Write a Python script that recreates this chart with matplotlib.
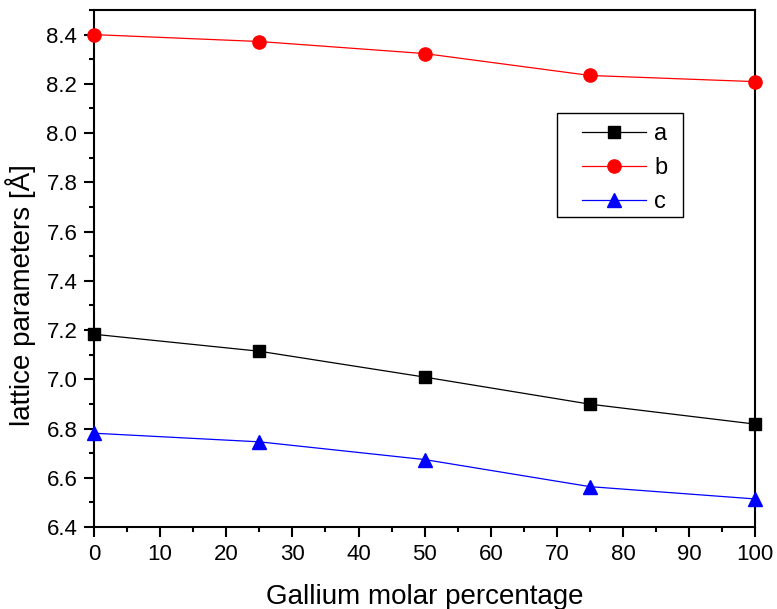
import matplotlib
matplotlib.use('Agg')
import matplotlib.pyplot as plt
from matplotlib.ticker import MultipleLocator
from matplotlib.patches import Rectangle

plt.rcParams['font.family'] = ['Liberation Sans', 'DejaVu Sans']

ga = [0, 25, 50, 75, 100]
a = [7.183, 7.114, 7.009, 6.899, 6.818]
b = [8.400, 8.372, 8.323, 8.234, 8.209]
c = [6.781, 6.746, 6.674, 6.564, 6.514]

fig = plt.figure(figsize=(7.77, 6.09), dpi=100)
ax = fig.add_axes([0.121, 0.1346, 0.851, 0.849])

ax.plot(ga, a, '-s', color='black', lw=0.9, ms=8.5, label='a', clip_on=False, zorder=3)
ax.plot(ga, b, '-o', color='red', lw=0.9, ms=9.5, label='b', clip_on=False, zorder=3)
ax.plot(ga, c, '-^', color='blue', lw=0.9, ms=10, label='c', clip_on=False, zorder=3)

ax.set_xlim(0, 100)
ax.set_ylim(6.4, 8.5)
ax.set_xticks(range(0, 101, 10))
ax.set_yticks([6.4, 6.6, 6.8, 7.0, 7.2, 7.4, 7.6, 7.8, 8.0, 8.2, 8.4])
ax.xaxis.set_minor_locator(MultipleLocator(5))
ax.yaxis.set_minor_locator(MultipleLocator(0.1))
ax.tick_params(which='both', direction='out', width=1.5, labelsize=16, pad=5,
               top=False, right=False)
ax.tick_params(which='major', length=7)
ax.tick_params(which='minor', length=3.5)
for s in ax.spines.values():
    s.set_linewidth(1.5)

ax.set_xlabel('Gallium molar percentage', fontsize=20, labelpad=14)
ax.set_ylabel('lattice parameters [Å]', fontsize=20)
ax.yaxis.set_label_coords(-0.087, 0.449)

# legend box drawn by hand, Origin style padding
ax.add_patch(Rectangle((0.7005, 0.5996), 0.1905, 0.2012, transform=ax.transAxes,
                       fill=True, facecolor='white', edgecolor='black', lw=1, zorder=4))
leg = ax.legend(loc='upper left', bbox_to_anchor=(0.71, 0.817), fontsize=17,
                frameon=False, handlelength=2.7, borderpad=0.3,
                labelspacing=0.5, handletextpad=0.35)
leg.set_zorder(5)

fig.savefig('out.png', dpi=100)
